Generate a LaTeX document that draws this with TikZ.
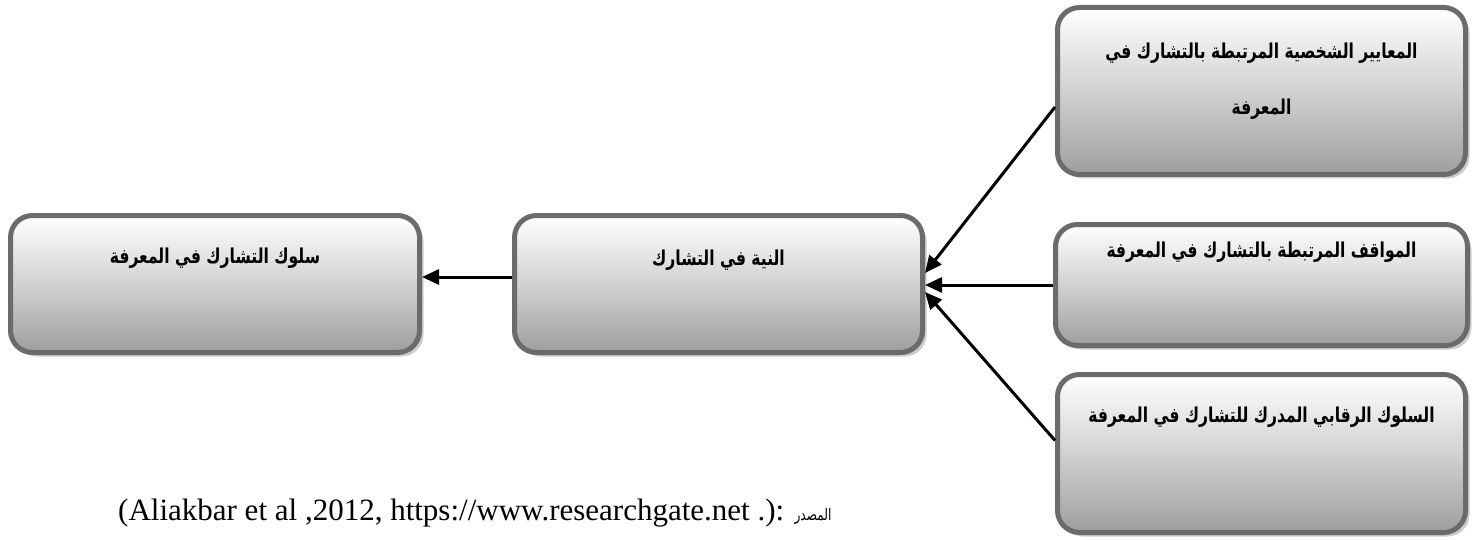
\documentclass[tikz,border=0pt]{standalone}
\usepackage{fontspec}
\setmainfont{Liberation Serif}
\newfontfamily\arabicfont[Script=Arabic, FakeStretch=0.76]{DejaVu Sans}
\TeXXeTstate=1
\usetikzlibrary{arrows.meta,shadows}
\definecolor{boxedge}{HTML}{6B6B6B}
\newcommand\artext[1]{{\arabicfont\bfseries\beginR #1\endR}}
\begin{document}
\begin{tikzpicture}[x=1pt,y=-1pt,
  box/.style={draw=boxedge, line width=5pt, rounded corners=22pt,
    top color=white, bottom color=black!38, middle color=black!18,
    drop shadow={shadow xshift=4pt, shadow yshift=-4pt, fill=black!20, opacity=1},
    inner sep=0pt},
  label/.style={font=\fontsize{20.5}{56}\selectfont, align=center, inner sep=0pt},
  conn/.style={line width=3pt, -{Triangle[length=17pt,width=15pt]}}]
\useasboundingbox (0,0) rectangle (1479,540);

% boxes
\node[box, minimum width=409pt, minimum height=137pt] (L) at (215,284) {};
\node[box, minimum width=408pt, minimum height=137pt] (M) at (718.5,284) {};
\node[box, minimum width=408pt, minimum height=167pt] (R1) at (1261.5,91) {};
\node[box, minimum width=412pt, minimum height=121pt] (R2) at (1261.5,285) {};
\node[box, minimum width=408pt, minimum height=158pt] (R3) at (1261.5,453.5) {};

% box captions
\node[label] (tL) at (215,258) {\artext{سلوك التشارك في المعرفة}};
\node[label] (tM) at (718.5,260) {\artext{النية في التشارك}};
\node[label] (tR1) at (1261.5,81) {\artext{المعايير الشخصية المرتبطة بالتشارك في}\\\artext{المعرفة}};
\node[label] (tR2) at (1261.5,252) {\artext{المواقف المرتبطة بالتشارك في المعرفة}};
\node[label] (tR3) at (1261.5,417) {\artext{السلوك الرقابي المدرك للتشارك في المعرفة}};

% connectors
\draw[conn] ([yshift=7pt]M.west) -- ([yshift=7pt]L.east);
\draw[conn] ([yshift=-16pt]R1.west) -- ([yshift=11pt]M.east);
\draw[conn] (R2.west) -- ([yshift=-1pt]M.east);
\draw[conn] ([yshift=13pt]R3.west) -- ([yshift=-8pt]M.east);

% source line
\node[anchor=base west, inner sep=0pt, font=\fontsize{31}{35}\selectfont] (src) at (118,520)
  {(Aliakbar et al ,2012, https://www.researchgate.net .): {\arabicfont\fontsize{16}{18}\selectfont\beginR المصدر\endR}};
\end{tikzpicture}
\end{document}
